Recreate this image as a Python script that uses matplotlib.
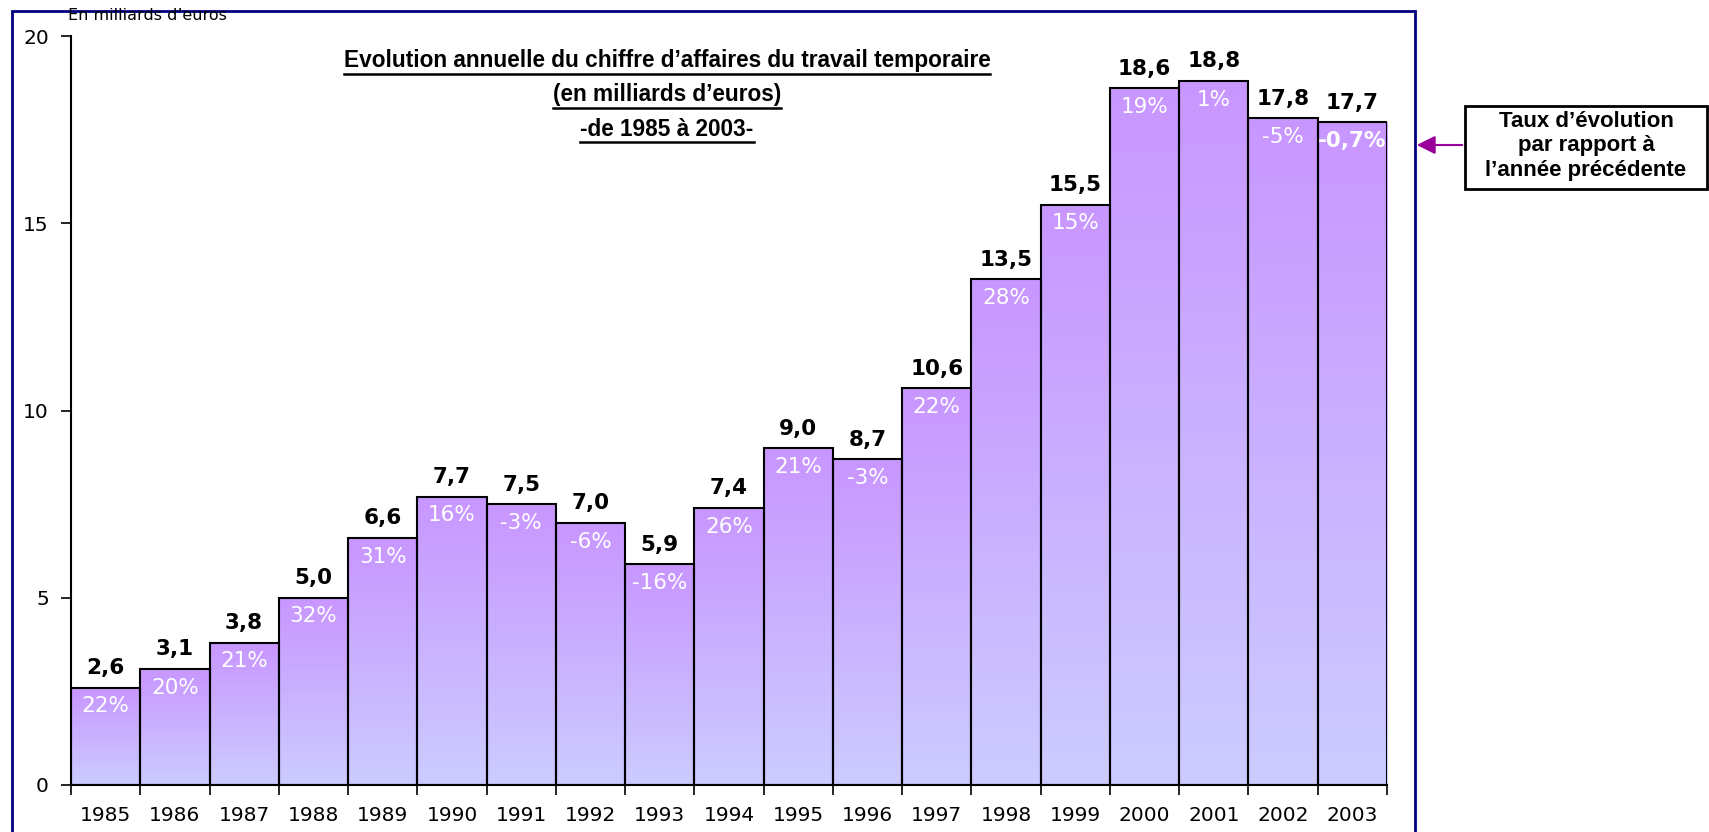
import numpy as np
import matplotlib
matplotlib.use('Agg')
import matplotlib.pyplot as plt
from matplotlib.colors import LinearSegmentedColormap
from matplotlib.patches import Rectangle

# Données : chiffre d'affaires du travail temporaire (milliards d'euros)
annees = ['1985', '1986', '1987', '1988', '1989', '1990', '1991', '1992', '1993', '1994',
          '1995', '1996', '1997', '1998', '1999', '2000', '2001', '2002', '2003']
valeurs = [2.6, 3.1, 3.8, 5.0, 6.6, 7.7, 7.5, 7.0, 5.9, 7.4,
           9.0, 8.7, 10.6, 13.5, 15.5, 18.6, 18.8, 17.8, 17.7]
taux = ['22%', '20%', '21%', '32%', '31%', '16%', '-3%', '-6%', '-16%', '26%',
        '21%', '-3%', '22%', '28%', '15%', '19%', '1%', '-5%', '-0,7%']
yticks = [0, 5, 10, 15, 20]

W, H = 1709, 832
fig = plt.figure(figsize=(W / 100, H / 100), dpi=100)
ax = fig.add_axes([71 / W, 1 - 785 / H, (1387 - 71) / W, (785 - 36) / H])

# cadre bleu autour du graphique
fig.patches.append(Rectangle((12 / W, -0.02), (1415 - 12) / W, (H - 11) / H + 0.02,
                             transform=fig.transFigure, fill=False,
                             edgecolor='#000080', linewidth=2))

x = np.arange(len(annees))
bars = ax.bar(x, valeurs, width=1.0, color='none', edgecolor='black', linewidth=1.5, zorder=3)

# dégradé violet -> lavande dans chaque barre
cmap = LinearSegmentedColormap.from_list('grad', ['#CCCCFF', '#C896FF'])
grad = np.linspace(0, 1, 256).reshape(-1, 1)
for xi, v, b in zip(x, valeurs, bars):
    im = ax.imshow(grad, cmap=cmap, origin='lower', aspect='auto',
                   extent=[xi - 0.5, xi + 0.5, 0, v], zorder=2)
    im.set_clip_path(b)

for xi, v, t in zip(x, valeurs, taux):
    lab = f'{v:.1f}'.replace('.', ',')
    ax.annotate(lab, (xi, v), xytext=(0, 14), textcoords='offset points',
                ha='center', va='center', fontsize=15.5, fontweight='bold', zorder=5)
    ax.annotate(t, (xi, v), xytext=(0, -13.5), textcoords='offset points',
                ha='center', va='center', fontsize=15.5, color='white',
                fontweight='bold' if t == '-0,7%' else 'normal', zorder=5)

ax.set_xlim(-0.5, len(annees) - 0.5)
ax.set_ylim(0, 20)
ax.set_yticks(yticks)
ax.tick_params(axis='y', labelsize=14.5, length=7, width=1.2, direction='out', pad=9)

ax.set_xticks(np.arange(-0.5, len(annees)), labels=[])
ax.set_xticks(x, labels=annees, minor=True)
ax.tick_params(axis='x', which='major', length=7, width=1.2, direction='out')
ax.tick_params(axis='x', which='minor', length=0, labelsize=14.5, pad=15)

for s in ['top', 'right']:
    ax.spines[s].set_visible(False)
for s in ['left', 'bottom']:
    ax.spines[s].set_linewidth(1.5)

fig.text(68 / W, 1 - 15 / H, 'En milliards d\u2019euros', fontsize=11.5, va='center', ha='left')

titre = ['Evolution annuelle du chiffre d\u2019affaires du travail temporaire',
         '(en milliards d\u2019euros)', '-de 1985 \u00e0 2003-']
for i, ligne in enumerate(titre):
    fig.text(667 / W, 1 - (61 + 34 * i) / H, ligne, fontsize=16.3, fontweight='bold',
             family='Liberation Sans', ha='center', va='center')
# soulignement du titre
fig.canvas.draw()
r = fig.canvas.get_renderer()
for t in fig.texts[1:]:
    bb = t.get_window_extent(r)
    fig.add_artist(plt.Line2D([bb.x0 / W, bb.x1 / W], [(bb.y0 - 1) / H, (bb.y0 - 1) / H],
                              transform=fig.transFigure, color='black', linewidth=1.8))

# encadré explicatif avec flèche
fig.text(1586 / W, 1 - 146 / H, 'Taux d\u2019\u00e9volution\npar rapport \u00e0\nl\u2019ann\u00e9e pr\u00e9c\u00e9dente',
         fontsize=16, fontweight='bold', ha='center', va='center', linespacing=1.2,
         family='Liberation Sans')
fig.patches.append(Rectangle((1465 / W, 1 - 189 / H), (1707 - 1465) / W, (189 - 106) / H,
                             transform=fig.transFigure, fill=False, edgecolor='black', linewidth=2))
fig.add_artist(matplotlib.patches.FancyArrowPatch((1465 / W, 1 - 145 / H), (1414 / W, 1 - 145 / H),
                                                  transform=fig.transFigure, arrowstyle='-|>',
                                                  mutation_scale=28, color='#990099', linewidth=1.5))

fig.savefig('out.png', dpi=100)
